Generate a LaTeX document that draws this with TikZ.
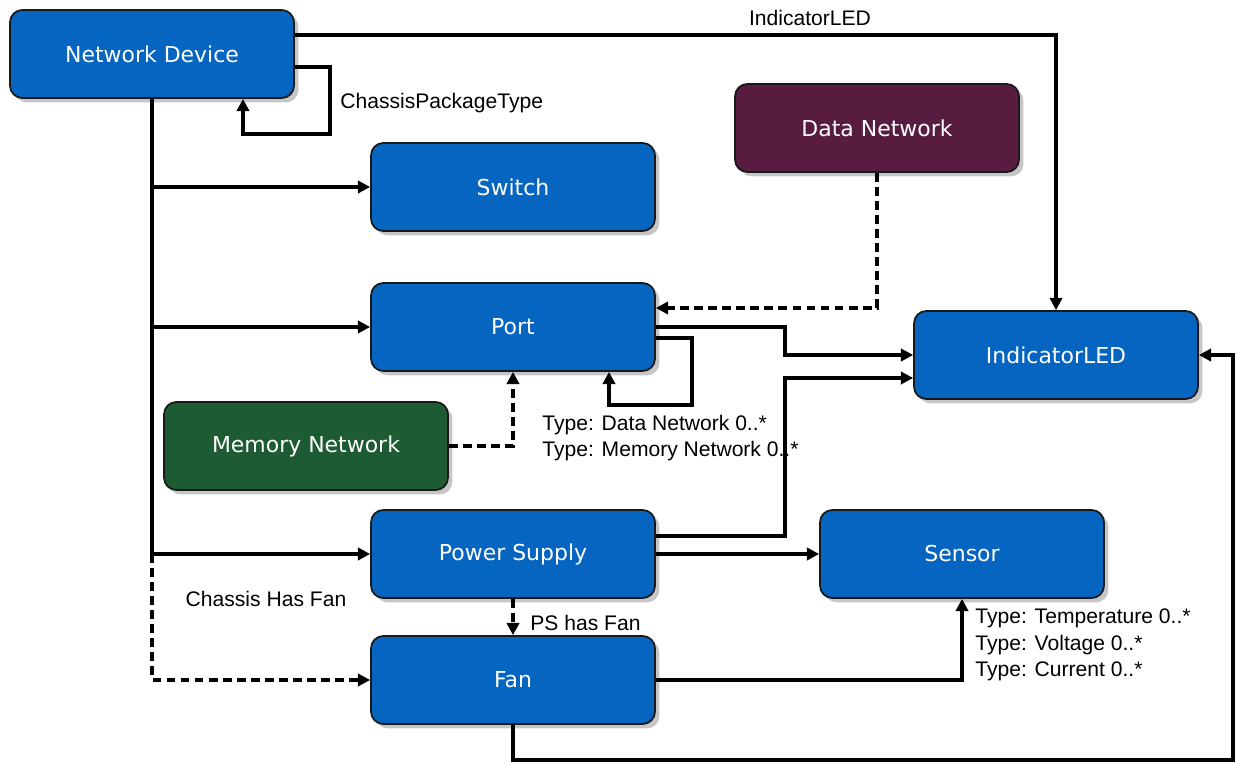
\documentclass[tikz,border=0pt]{standalone}
\usepackage{fontspec}
\setmainfont{Liberation Sans}
\newfontfamily\boxfont{DejaVu Sans}
\usetikzlibrary{arrows.meta}
\usetikzlibrary{shadows}

\definecolor{boxblue}{RGB}{5,101,193}
\definecolor{boxplum}{RGB}{87,28,64}
\definecolor{boxgreen}{RGB}{29,92,51}

\begin{document}
\begin{tikzpicture}[x=0.02cm, y=-0.02cm,
    unit/.style={draw=black!90, line width=1pt, fill=boxblue, rounded corners=7pt,
        minimum width=5.68cm, minimum height=1.76cm, text=white,
        font=\boxfont\fontsize{12.5}{15}\selectfont,
        drop shadow={shadow xshift=2.5pt, shadow yshift=-2.5pt, opacity=0.45}},
    link/.style={line width=2.1pt, -{Triangle[length=7pt, width=7pt]}},
    dashlink/.style={link, dash pattern=on 5pt off 3pt},
    lbl/.style={inner sep=0pt, align=left, font=\fontsize{12}{15.2}\selectfont}]

    \useasboundingbox (0,0) rectangle (1236,763);

    % Boxes
    \node[unit] (nd) at (152,54) {Network Device};
    \node[unit] (sw) at (513,187) {Switch};
    \node[unit, fill=boxplum] (dn) at (877,128) {Data Network};
    \node[unit] (port) at (513,327) {Port};
    \node[unit] (led) at (1056,355) {IndicatorLED};
    \node[unit, fill=boxgreen] (mem) at (306,446) {Memory Network};
    \node[unit] (psu) at (513,554) {Power Supply};
    \node[unit] (sen) at (962,554) {Sensor};
    \node[unit] (fan) at (513,680) {Fan};

    % Network Device links
    \draw[link] (nd.east |- 0,35) -| (led.north);
    \draw[link] (nd.east |- 0,67) -| (330,134) -| (nd.south -| 243,0);
    \draw[link] (nd.south |- sw.west) -- (sw.west);
    \draw[link] (nd.south |- port.west) -- (port.west);
    \draw[link] (nd.south) |- (psu.west);
    \draw[dashlink] (nd.south |- psu.west) |- (fan.west);

    % Port links
    \draw[dashlink] (dn.south) |- (port.east |- 0,308);
    \draw[link] (port.east) -- (785,327) |- (led.west);
    \draw[link] (port.east |- 0,338) -| (692,405) -| (port.south -| 609,0);
    \draw[dashlink] (mem.east) -| (port.south);

    % Power Supply links
    \draw[link] (psu.east |- 0,536) -- (785,536) |- (led.west |- 0,378);
    \draw[link] (psu.east) -- (sen.west);
    \draw[dashlink] (psu.south) -- (fan.north);

    % Fan links
    \draw[link] (fan.east) -| (sen.south);
    \draw[link] (fan.south) |- (1233,760) |- (led.east);

    % Labels
    \node[lbl] (l1) at (810,18) {IndicatorLED};
    \node[lbl, anchor=west] (l2) at (340,103) {ChassisPackageType};
    \node[lbl, anchor=west] (l3) at (542,438) {Type: Data Network 0..*\\Type: Memory Network 0..*};
    \node[lbl, anchor=west] (l6) at (975,645) {Type: Temperature 0..*\\Type: Voltage 0..*\\Type: Current 0..*};
    \node[lbl] (l4) at (266,599) {Chassis Has Fan};
    \node[lbl, anchor=west] (l5) at (530,623) {PS has Fan};
\end{tikzpicture}
\end{document}
